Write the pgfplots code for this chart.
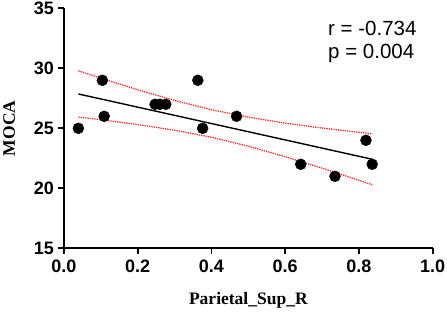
\documentclass[border=0pt]{standalone}
\usepackage{fontspec}
\setmainfont{Liberation Sans}
\newfontfamily\serifb{Liberation Serif}
\usepackage{pgfplots}
\pgfplotsset{compat=1.18}
\begin{document}
\begin{tikzpicture}
\begin{axis}[
  scale only axis,
  width=368.7pt, height=240pt,
  xmin=0, xmax=1, ymin=15, ymax=35,
  axis lines*=left,
  axis line style={line width=1.9pt, -},
  xtick={0,0.2,0.4,0.6,0.8,1.0},
  ytick={15,20,25,30,35},
  tick style={line width=1.9pt, black},
  tick align=outside,
  major tick length=5.5pt,
  xticklabel style={/pgf/number format/.cd, fixed, fixed zerofill, precision=1, /tikz/.cd, yshift=-3pt},
  yticklabel style={xshift=-1pt},
  /pgf/number format/assume math mode=true,
  ticklabel style={font=\fontsize{18}{18}\selectfont\bfseries},
  clip=false,
  xlabel={Parietal\_Sup\_R},
  ylabel={MOCA},
  label style={font=\serifb\fontsize{17.5}{17.5}\selectfont\bfseries},
  xlabel style={at={(axis description cs:0.5,-0.215)}, anchor=center},
  ylabel style={at={(axis description cs:-0.149,0.5)}, anchor=center},
]
% upper confidence band
\addplot[red!85, line width=1.3pt, densely dotted] coordinates {
 (0.039,29.79) (0.1,29.18) (0.2,28.21) (0.3,27.32) (0.4,26.55) (0.5,25.93) (0.6,25.43) (0.7,25.02) (0.8,24.67) (0.836,24.54)};
% lower confidence band
\addplot[red!85, line width=1.3pt, densely dotted] coordinates {
 (0.039,25.93) (0.1,25.72) (0.2,25.31) (0.3,24.84) (0.4,24.25) (0.5,23.51) (0.6,22.63) (0.7,21.68) (0.8,20.67) (0.836,20.30)};
% fit line
\addplot[black, line width=1.4pt] coordinates {(0.039,27.86) (0.836,22.42)};
% data
\addplot[only marks, mark=*, mark size=5.5pt, black] coordinates {
 (0.039,25) (0.104,29) (0.109,26) (0.247,27) (0.260,27) (0.276,27) (0.363,29)
 (0.376,25) (0.468,26) (0.642,22) (0.735,21) (0.819,24) (0.836,22)};
\node[anchor=west, align=left, font=\fontsize{20.5}{23}\selectfont, inner sep=0pt]
  at (axis cs:0.716,32.2) {r = -0.734\\p = 0.004};
\end{axis}
\pgfresetboundingbox
\path[use as bounding box] ([shift={(-64pt,-64.7pt)}]current axis.south west) rectangle ([shift={(14.3pt,8.3pt)}]current axis.north east);
\end{tikzpicture}
\end{document}
